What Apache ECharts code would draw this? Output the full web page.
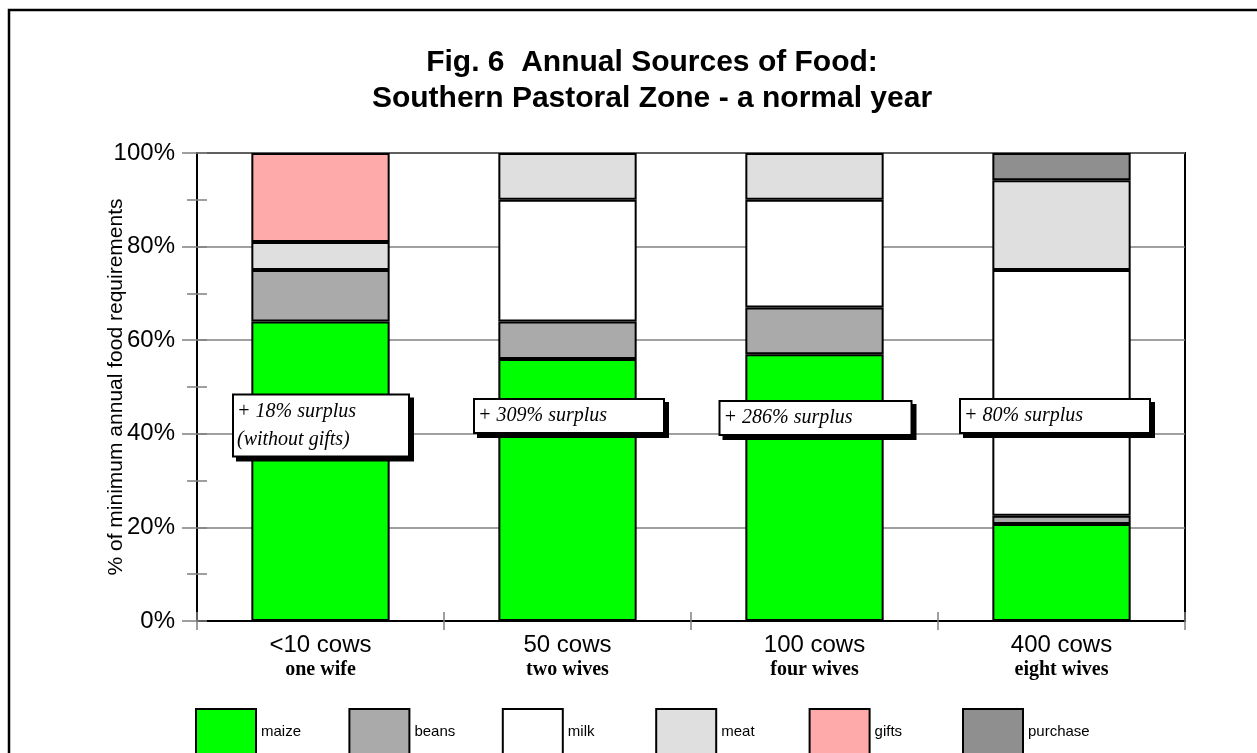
<!DOCTYPE html>
<html><head><meta charset="utf-8">
<script src="https://cdn.jsdelivr.net/npm/echarts@6/dist/echarts.min.js"></script>
<style>html,body{margin:0;padding:0;background:#fff}#c{width:1257px;height:753px}</style>
</head><body><div id="c"></div>
<script>
// ---- data ----
const categories = ['<10 cows', '50 cows', '100 cows', '400 cows'];
const subLabels = ['one wife', 'two wives', 'four wives', 'eight wives'];
const maize = [64, 56, 57, 20.7];
const beans = [11, 8, 10, 1.8];
const milk = [null, 26, 23, 52.5];
const meat = [6, 10, 10, 19.2];
const gifts = [19, null, null, null];
const purchase = [null, null, null, 5.8];
const surplusNotes = ['+ 18% surplus\n(without gifts)', '+ 309% surplus', '+ 286% surplus', '+ 80% surplus'];
const noteLevels = [41.8, 43.8, 43.4, 43.8];
const yTicks = [0, 20, 40, 60, 80, 100];

// ---- styles ----
const ARIAL = 'Arial, "Liberation Sans", sans-serif';
const TIMES = '"Times New Roman", "Liberation Serif", "DejaVu Serif", serif';
const seriesDefs = [
  ['maize', maize, '#00ff00'],
  ['beans', beans, '#aaaaaa'],
  ['milk', milk, '#ffffff'],
  ['meat', meat, '#dfdfdf'],
  ['gifts', gifts, '#ffaaaa'],
  ['purchase', purchase, '#8f8f8f']
];
const noteBox = [
  {w: 169, dx: -86.5},
  {w: 183, dx: -92.5},
  {w: 185, dx: -94},
  {w: 183, dx: -100.5}
];

const chart = echarts.init(document.getElementById('c'), null, {renderer: 'canvas'});
const barSeries = seriesDefs.map(([name, data, color]) => ({
  name, type: 'bar', stack: 'food', data, barWidth: '56%',
  itemStyle: {color, borderColor: '#000', borderWidth: 2},
  emphasis: {disabled: true},
  z: 3
}));

const noteSeries = {
  type: 'scatter', name: 'notes', xAxisIndex: 0, yAxisIndex: 0,
  symbol: 'rect', symbolSize: 2, itemStyle: {color: 'rgba(0,0,0,0)', opacity: 1},
  silent: true, z: 10,
  emphasis: {disabled: true},
  data: categories.map((c, i) => ({
    value: [i, noteLevels[i]],
    label: {
      show: true, position: 'inside', align: 'left', verticalAlign: 'middle',
      offset: [noteBox[i].dx, 0], width: noteBox[i].w,
      formatter: surplusNotes[i],
      fontFamily: TIMES, fontStyle: 'italic',
      fontSize: 20, lineHeight: 28, color: '#000', opacity: 1,
      backgroundColor: '#fff', borderColor: '#000', borderWidth: 2,
      padding: [2, 2, 2, 3],
      shadowColor: '#000', shadowBlur: 0, shadowOffsetX: 4, shadowOffsetY: 4
    }
  }))
};

const legends = seriesDefs.map((d, i) => ({
  data: [d[0]],
  left: 190 + i * 153.4, top: 703, orient: 'horizontal',
  itemWidth: 60, itemHeight: 46, itemTextGap: 14,
  icon: 'rect', selectedMode: false,
  itemStyle: {borderColor: '#000', borderWidth: 2},
  textStyle: {fontFamily: ARIAL, fontSize: 15, color: '#000'}
}));

const option = {
  animation: false,
  backgroundColor: '#fff',
  title: {
    text: 'Fig. 6  Annual Sources of Food:\nSouthern Pastoral Zone - a normal year',
    left: 647, textAlign: 'center', top: 40,
    textStyle: {fontFamily: ARIAL, fontWeight: 'bold', fontSize: 30, lineHeight: 36, color: '#000'}
  },
  graphic: [{
    type: 'rect', shape: {x: 9, y: 10, width: 1300, height: 800},
    style: {fill: 'none', stroke: '#000', lineWidth: 2.5}, silent: true
  }],
  legend: legends,
  grid: {left: 197, right: 72, top: 153, bottom: 132, show: true, borderColor: '#000', borderWidth: 2, containLabel: false},
  xAxis: [{
    type: 'category', data: categories, position: 'bottom',
    axisLine: {show: true, lineStyle: {color: '#000', width: 2}},
    axisTick: {show: true, alignWithLabel: false, length: 9, lineStyle: {color: '#808080', width: 1.5}},
    axisLabel: {
      margin: 11, interval: 0,
      formatter: (v, i) => '{a|' + v + '}\n{b|' + subLabels[i] + '}',
      rich: {
        a: {fontFamily: ARIAL, fontSize: 24, lineHeight: 26, color: '#000'},
        b: {fontFamily: TIMES, fontWeight: 'bold', fontSize: 20, lineHeight: 24, color: '#000'}
      }
    },
    splitLine: {show: false}
  }, {
    type: 'category', data: categories, position: 'bottom', offset: 0,
    axisLine: {show: false},
    axisTick: {show: true, inside: true, alignWithLabel: false, length: 9, lineStyle: {color: '#808080', width: 1.5}},
    axisLabel: {show: false}, splitLine: {show: false}
  }],
  yAxis: [{
    type: 'value', min: yTicks[0], max: yTicks[yTicks.length - 1], interval: yTicks[1] - yTicks[0],
    name: '% of minimum annual food requirements', nameLocation: 'middle', nameGap: 70,
    nameMoveOverlap: false,
    nameTextStyle: {fontFamily: ARIAL, fontSize: 21, color: '#000'},
    axisLine: {show: true, lineStyle: {color: '#000', width: 2}},
    axisTick: {show: true, length: 15, lineStyle: {color: '#808080', width: 1.5}},
    minorTick: {show: true, splitNumber: 2, length: 10, lineStyle: {color: '#808080', width: 1.5}},
    axisLabel: {formatter: '{value}%', fontFamily: ARIAL, fontSize: 24, color: '#000', margin: 22},
    splitLine: {show: true, lineStyle: {color: '#808080', width: 1.5}}
  }, {
    type: 'value', min: yTicks[0], max: yTicks[yTicks.length - 1], interval: (yTicks[1] - yTicks[0]) / 2,
    position: 'left', offset: 0,
    axisLine: {show: false},
    axisTick: {show: true, inside: true, length: 10, lineStyle: {color: '#808080', width: 1.5}},
    axisLabel: {show: false}, splitLine: {show: false}
  }],
  series: barSeries.concat([noteSeries])
};
chart.setOption(option);
</script>
</body></html>
